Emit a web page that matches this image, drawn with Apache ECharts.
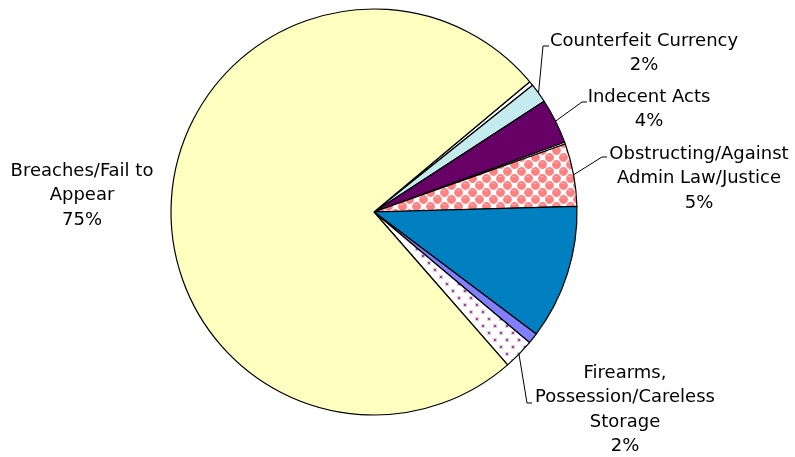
<!DOCTYPE html>
<html>
<head>
<meta charset="utf-8">
<script src="https://cdn.jsdelivr.net/npm/echarts@6/dist/echarts.min.js"></script>
<style>
html,body{margin:0;padding:0;background:#fff;}
#chart{width:795px;height:457px;}
</style>
</head>
<body>
<div id="chart"></div>
<script>
// ---- data ----
const categories = ['Other A', 'Counterfeit Currency', 'Indecent Acts', 'Other B',
  'Obstructing/Against Admin Law/Justice', 'Other C', 'Other D',
  'Firearms, Possession/Careless Storage', 'Breaches/Fail to Appear'];
const labelLines = ['', 'Counterfeit Currency', 'Indecent Acts', '',
  'Obstructing/Against\nAdmin Law/Justice', '', '',
  'Firearms,\nPossession/Careless\nStorage', 'Breaches/Fail to\nAppear'];
const values = [0.35, 1.55, 3.6, 0.15, 5.0, 10.7, 0.85, 2.45, 75.35];
const labelled = [false, true, true, false, true, false, false, true, true];

// ---- patterns ----
function makePattern(w, h, draw) {
  const c = document.createElement('canvas');
  c.width = w; c.height = h;
  draw(c.getContext('2d'));
  return { image: c, repeat: 'repeat' };
}
const pinkPattern = makePattern(14, 14, ctx => {
  ctx.fillStyle = '#ffffff'; ctx.fillRect(0, 0, 14, 14);
  const centers = [[3.5, 3.5], [10.5, 10.5], [17.5, 3.5], [-3.5, 10.5], [3.5, 17.5], [10.5, -3.5], [17.5, 17.5], [-3.5, -3.5]];
  ctx.fillStyle = '#ff8080';
  centers.forEach(p => { ctx.beginPath(); ctx.arc(p[0], p[1], 4.4, 0, Math.PI * 2); ctx.fill(); });
  ctx.fillStyle = '#ffb8b8';
  centers.forEach(p => { ctx.fillRect(p[0] - 2, p[1] - 2.5, 3, 1); });
});
const dotPattern = makePattern(12, 14, ctx => {
  ctx.fillStyle = '#ffffff'; ctx.fillRect(0, 0, 12, 14);
  ctx.fillStyle = '#e6c8de';
  ctx.fillRect(1, 2, 4, 4);
  ctx.fillRect(7, 9, 4, 4);
  ctx.fillStyle = '#a04890';
  ctx.fillRect(2, 3, 2, 2);
  ctx.fillRect(8, 10, 2, 2);
});
const colors = ['#ffffff', '#c4ecee', '#660066', '#ffffff', pinkPattern,
  '#0080c0', '#8080ff', dotPattern, '#ffffc0'];

// label placement (layout only)
const labelPlace = {
  1: { x: 644, y: 29, bend: [543, 46], end: [549, 46] },
  2: { x: 649, y: 85, bend: [582, 102], end: [587, 102] },
  4: { x: 699, y: 142, bend: [602, 157], end: [607, 157] },
  7: { x: 625, y: 361, bend: [527, 403], end: [532, 403] },
  8: { x: 82, y: 159 }
};

const data = categories.map((name, i) => ({
  name: name,
  value: values[i],
  itemStyle: { color: colors[i] },
  label: { show: labelled[i] },
  labelLine: { show: labelled[i] && i !== 8 }
}));

const chart = echarts.init(document.getElementById('chart'), null, { renderer: 'canvas' });
chart.setOption({
  animation: false,
  backgroundColor: '#ffffff',
  series: [{
    type: 'pie',
    center: [374, 212],
    radius: 203,
    startAngle: 39.9,
    clockwise: true,
    avoidLabelOverlap: false,
    data: data,
    itemStyle: { borderColor: '#000000', borderWidth: 1.2 },
    emphasis: { disabled: true },
    label: {
      position: 'outer',
      color: '#000000',
      fontFamily: 'DejaVu Sans',
      fontSize: 18,
      lineHeight: 24.5,
      align: 'center',
      formatter: p => labelLines[p.dataIndex] + '\n' + Math.round(p.percent) + '%'
    },
    labelLine: { lineStyle: { color: '#000000', width: 1 }, length: 10, length2: 10 },
    labelLayout: function (params) {
      const pl = labelPlace[params.dataIndex];
      if (!pl) return {};
      const res = { x: pl.x, y: pl.y, align: 'center', verticalAlign: 'top' };
      if (pl.bend && params.labelLinePoints) {
        res.labelLinePoints = [params.labelLinePoints[0], pl.bend, pl.end];
      }
      return res;
    }
  }]
});
</script>
</body>
</html>
